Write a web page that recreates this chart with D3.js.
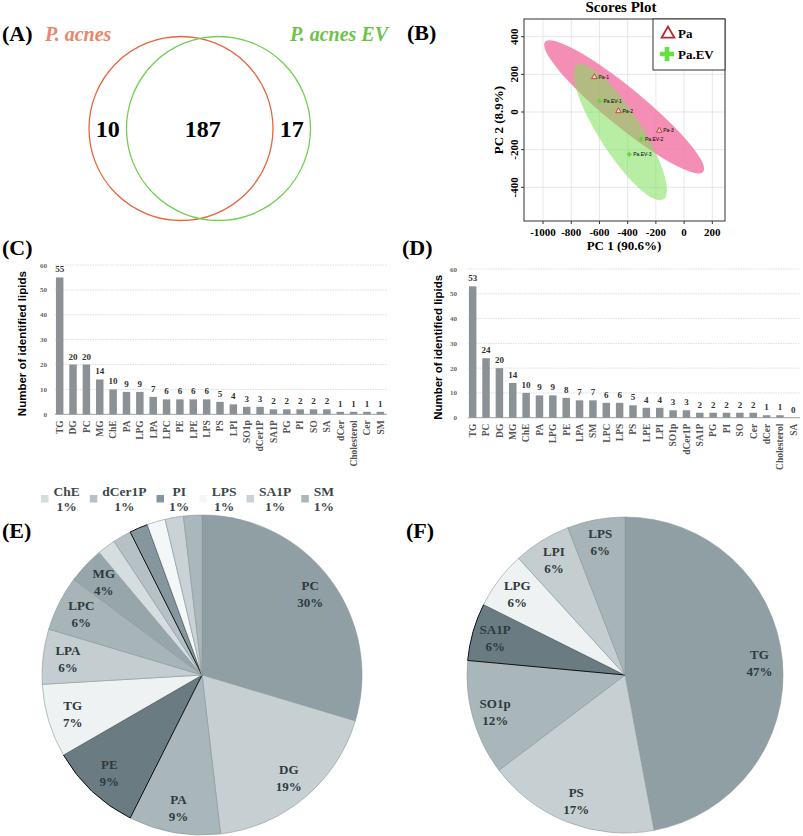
<!DOCTYPE html>
<html>
<head>
<meta charset="utf-8">
<script src="https://cdn.jsdelivr.net/npm/d3@7"></script>
<style>
  body { margin: 0; background: #fff; }
  svg { display: block; }
  text { font-family: "Liberation Serif", "Times New Roman", serif; }
</style>
</head>
<body>
<svg id="fig" width="803" height="836"></svg>
<script>
// ---------- data ----------
const vennSets = ["P. acnes", "P. acnes EV"];
const vennCounts = [10, 187, 17]; // only first, shared, only second

const pcaSamples = ["Pa-1", "Pa-2", "Pa-3", "Pa.EV-1", "Pa.EV-2", "Pa.EV-3"];
const pcaGroup = ["Pa", "Pa", "Pa", "Pa.EV", "Pa.EV", "Pa.EV"];
const pc1 = [-636, -465, -176, -600, -306, -389];
const pc2 = [186, 5, -99, 58, -145, -225];
const pcaGroups = ["Pa", "Pa.EV"];
// confidence ellipses: centre and one end of the long axis, in PC units
const ellCx = [-425, -452];
const ellCy = [27, -107];
const ellEndX = [-986, -758];
const ellEndY = [372, 250];
const pc1Ticks = [-1000, -800, -600, -400, -200, 0, 200];
const pc2Ticks = [-400, -200, 0, 200, 400];

const lipidsC = ["TG","DG","PC","MG","ChE","PA","LPG","LPA","LPC","PE","LPE","LPS","PS","LPI","SO1p","dCer1P","SA1P","PG","PI","SO","SA","dCer","Cholesterol","Cer","SM"];
const countsC = [55,20,20,14,10,9,9,7,6,6,6,6,5,4,3,3,2,2,2,2,2,1,1,1,1];
const lipidsD = ["TG","PC","DG","MG","ChE","PA","LPG","PE","LPA","SM","LPC","LPS","PS","LPE","LPI","SO1p","dCer1P","SA1P","PG","PI","SO","Cer","dCer","Cholesterol","SA"];
const countsD = [53,24,20,14,10,9,9,8,7,7,6,6,5,4,4,3,3,2,2,2,2,2,1,1,0];
const countTicks = [0, 10, 20, 30, 40, 50, 60];

const pieECats = ["PC","DG","PA","PE","TG","LPA","LPC","MG","ChE","dCer1P","PI","LPS","SA1P","SM"];
const pieEVals = [16,10,5,5,4,3,3,2,1,1,1,1,1,1];
const pieEPct  = ["30%","19%","9%","9%","7%","6%","6%","4%","1%","1%","1%","1%","1%","1%"];
const pieFCats = ["TG","PS","SO1p","SA1P","LPG","LPI","LPS"];
const pieFVals = [8,3,2,1,1,1,1];
const pieFPct  = ["47%","17%","12%","6%","6%","6%","6%"];

// ---------- styles ----------
const greys = ["#909fa4","#c6d0d3","#a9b6ba","#6a7c82","#eef2f3","#c4ced1","#a7b4b8",
               "#97a6ab","#d6dde0","#b5c1c4","#85979c","#f4f7f8","#c9d3d6","#abb8bb"];
const barColor = "#8b9194";
const pieText = "#2e3a3e";

const svg = d3.select("#fig");

function panelLabel(txt, x, y) {
  svg.append("text").attr("x", x).attr("y", y).text(txt)
    .style("font-size", "22px").style("font-weight", "bold");
}

// ---------- (A) Venn ----------
panelLabel("(A)", 2, 41);
const vx = d3.scalePoint().domain(vennSets).range([181, 218.5]);
const vr = 92, vcy = 128.5;
const vennCol = ["#e8643f", "#6fcf4f"];
const vennTxt = ["#e8876a", "#6cc24a"];
svg.selectAll("circle.venn").data(vennSets).enter().append("circle")
  .attr("class", "venn")
  .attr("cx", d => vx(d)).attr("cy", vcy).attr("r", vr)
  .style("fill", "none").style("stroke", (d, i) => vennCol[i]).style("stroke-width", 1.3);
svg.append("text").attr("x", 45).attr("y", 41).text(vennSets[0])
  .style("font-size", "20px").style("font-weight", "bold").style("font-style", "italic")
  .style("fill", vennTxt[0]);
svg.append("text").attr("x", 388).attr("y", 41).text(vennSets[1])
  .style("font-size", "20px").style("font-weight", "bold").style("font-style", "italic")
  .style("text-anchor", "end").style("fill", vennTxt[1]);
const leftA = vx(vennSets[0]) - vr, leftB = vx(vennSets[1]) - vr;
const rightA = vx(vennSets[0]) + vr, rightB = vx(vennSets[1]) + vr;
const vennLabX = [(leftA + leftB) / 2, (leftB + rightA) / 2 + 3, (rightA + rightB) / 2];
svg.selectAll("text.vc").data(vennCounts).enter().append("text")
  .attr("class", "vc")
  .attr("x", (d, i) => vennLabX[i]).attr("y", vcy + 8)
  .text(d => d)
  .style("font-size", "24px").style("font-weight", "bold").style("text-anchor", "middle");

// ---------- (B) PCA scores ----------
panelLabel("(B)", 407, 40);
const px = d3.scaleLinear().domain([-1135, 290]).range([524, 725]);
const py = d3.scaleLinear().domain([-579, 494]).range([221, 19]);
const gB = svg.append("g");
gB.append("text").attr("x", 621).attr("y", 12).text("Scores Plot")
  .style("font-size", "15px").style("font-weight", "bold").style("text-anchor", "middle");
gB.selectAll("line.gx").data(pc1Ticks).enter().append("line")
  .attr("x1", d => px(d)).attr("x2", d => px(d)).attr("y1", py.range()[0]).attr("y2", py.range()[1])
  .style("stroke", "#dde2e6").style("stroke-width", 0.8);
gB.selectAll("line.gy").data(pc2Ticks).enter().append("line")
  .attr("y1", d => py(d)).attr("y2", d => py(d)).attr("x1", px.range()[0]).attr("x2", px.range()[1])
  .style("stroke", "#dde2e6").style("stroke-width", 0.8);

const ellFill = ["#f27aa8", "#7ee05a"];
const ellOp = [0.85, 0.55];
const ellMinor = [19, 21];
pcaGroups.forEach((g, i) => {
  const cx = px(ellCx[i]), cy = py(ellCy[i]);
  const ex = px(ellEndX[i]), ey = py(ellEndY[i]);
  const a = Math.hypot(ex - cx, ey - cy);
  const ang = Math.atan2(ey - cy, ex - cx) * 180 / Math.PI;
  gB.append("ellipse")
    .attr("transform", `translate(${cx},${cy}) rotate(${ang})`)
    .attr("rx", a).attr("ry", ellMinor[i])
    .style("fill", ellFill[i]).style("fill-opacity", ellOp[i]);
});

gB.append("rect").attr("x", px.range()[0]).attr("y", py.range()[1])
  .attr("width", px.range()[1] - px.range()[0]).attr("height", py.range()[0] - py.range()[1])
  .style("fill", "none").style("stroke", "#333").style("stroke-width", 1);

gB.selectAll("text.tx").data(pc1Ticks).enter().append("text")
  .attr("x", d => px(d)).attr("y", 236).text(d => d)
  .style("font-size", "11px").style("font-weight", "bold").style("text-anchor", "middle");
gB.selectAll("text.ty").data(pc2Ticks).enter().append("text")
  .attr("transform", d => `translate(518,${py(d)}) rotate(-90)`).text(d => d)
  .style("font-size", "11px").style("font-weight", "bold").style("text-anchor", "middle");
gB.selectAll("line.tkx").data(pc1Ticks).enter().append("line")
  .attr("x1", d => px(d)).attr("x2", d => px(d)).attr("y1", 221).attr("y2", 224)
  .style("stroke", "#333");
gB.selectAll("line.tky").data(pc2Ticks).enter().append("line")
  .attr("y1", d => py(d)).attr("y2", d => py(d)).attr("x1", 521).attr("x2", 524)
  .style("stroke", "#333");
gB.append("text").attr("x", 624).attr("y", 250).text("PC 1 (90.6%)")
  .style("font-size", "13px").style("font-weight", "bold").style("text-anchor", "middle");
gB.append("text").attr("transform", "translate(503,120) rotate(-90)").text("PC 2 (8.9%)")
  .style("font-size", "13px").style("font-weight", "bold").style("text-anchor", "middle");

const tri = d3.symbol().type(d3.symbolTriangle);
const cross = d3.symbol().type(d3.symbolCross);
const pts = pcaSamples.map((s, i) => ({name: s, g: pcaGroup[i], x: pc1[i], y: pc2[i]}));
gB.selectAll("path.pt").data(pts).enter().append("path")
  .attr("transform", d => `translate(${px(d.x)},${py(d.y)})`)
  .attr("d", d => d.g === "Pa" ? tri.size(14)() : cross.size(14)())
  .style("fill", d => d.g === "Pa" ? "#f7d0d0" : "#5fd83a")
  .style("stroke", d => d.g === "Pa" ? "#c62828" : "none")
  .style("stroke-width", 0.8);
gB.selectAll("text.pl").data(pts).enter().append("text")
  .attr("x", d => px(d.x) + 4).attr("y", d => py(d.y) + 1.8).text(d => d.name)
  .style("font-family", "'Liberation Sans', Arial, sans-serif").style("font-size", "5px");

// legend
gB.append("rect").attr("x", 653).attr("y", 19).attr("width", 72).attr("height", 51)
  .style("fill", "#fff").style("stroke", "#333");
gB.append("path").attr("transform", "translate(668,34)").attr("d", tri.size(70)())
  .style("fill", "none").style("stroke", "#b02a2a").style("stroke-width", 1.8);
gB.append("path").attr("transform", "translate(667,54)").attr("d", cross.size(110)())
  .style("fill", "#66e040");
gB.selectAll("text.lg").data(pcaGroups).enter().append("text")
  .attr("x", 678).attr("y", (d, i) => 38 + i * 21).text(d => d)
  .style("font-size", "13px").style("font-weight", "bold");

// ---------- (C)/(D) bar charts ----------
function barChart(cats, vals, x0, x1, yBase, yTop, tickX, titleX) {
  const x = d3.scaleBand().domain(cats).range([x0, x1]).paddingInner(0.44).paddingOuter(0.22);
  const y = d3.scaleLinear().domain([0, 60]).range([yBase, yTop]);
  const g = svg.append("g");
  g.selectAll("line.grid").data(countTicks.slice(1)).enter().append("line")
    .attr("x1", x0 + 2).attr("x2", x1).attr("y1", d => y(d)).attr("y2", d => y(d))
    .style("stroke", "#cdd8df").style("stroke-width", 0.8).style("stroke-dasharray", "1.5,1");
  g.selectAll("text.tick").data(countTicks).enter().append("text")
    .attr("x", tickX).attr("y", d => y(d) + 2.5).text(d => d)
    .style("font-size", "7px").style("font-weight", "bold").style("fill", "#666")
    .style("text-anchor", "end");
  g.append("line").attr("x1", x0 + 2).attr("x2", x1).attr("y1", yBase).attr("y2", yBase)
    .style("stroke", "#9aa0a4").style("stroke-width", 1);
  g.selectAll("rect.bar").data(cats).enter().append("rect")
    .attr("x", d => x(d)).attr("width", x.bandwidth())
    .attr("y", (d, i) => y(vals[i])).attr("height", (d, i) => yBase - y(vals[i]))
    .style("fill", barColor);
  g.selectAll("text.val").data(cats).enter().append("text")
    .attr("x", d => x(d) + x.bandwidth() / 2).attr("y", (d, i) => y(vals[i]) - 5)
    .text((d, i) => vals[i])
    .style("font-size", "9px").style("font-weight", "bold").style("fill", "#333")
    .style("text-anchor", "middle");
  g.selectAll("text.cat").data(cats).enter().append("text")
    .attr("transform", d => `translate(${x(d) + x.bandwidth() / 2},${yBase + 6}) rotate(-90)`)
    .attr("dy", "0.35em").text(d => d)
    .style("font-size", "9.5px").style("font-weight", "bold").style("fill", "#555")
    .style("text-anchor", "end");
  g.append("text")
    .attr("transform", `translate(${titleX},${(yBase + yTop) / 2 + 4}) rotate(-90)`)
    .text("Number of identified lipids")
    .style("font-family", "'Liberation Sans', Arial, sans-serif")
    .style("font-size", "11.5px").style("font-weight", "bold").style("text-anchor", "middle");
}
panelLabel("(C)", 2, 255);
barChart(lipidsC, countsC, 53, 387, 414.3, 265, 47, 26);
panelLabel("(D)", 402, 255);
barChart(lipidsD, countsD, 466, 800, 417.7, 269, 457, 442);

// ---------- (E)/(F) pies ----------
function pieChart(cats, vals, pcts, cx, cy, r, inPie) {
  const pie = d3.pie().sort(null).value(d => d.v);
  const data = pie(cats.map((c, i) => ({c: c, v: vals[i], p: pcts[i], col: greys[i]})));
  const arc = d3.arc().innerRadius(0).outerRadius(r);
  const lab = d3.arc().innerRadius(135).outerRadius(135);
  const g = svg.append("g").attr("transform", `translate(${cx},${cy})`);
  g.selectAll("path").data(data).enter().append("path")
    .attr("d", arc)
    .style("fill", d => d.data.col)
    .style("stroke", d => d3.hsl(d.data.col).l < 0.58 ? "#111" : "#8a979b")
    .style("stroke-width", d => d3.hsl(d.data.col).l < 0.58 ? 1 : 0.6);
  const lg = g.selectAll("g.lab").data(data.filter(inPie)).enter().append("g")
    .attr("transform", d => `translate(${lab.centroid(d)})`);
  lg.append("text").attr("y", -4).text(d => d.data.c)
    .style("font-size", "13px").style("font-weight", "bold").style("fill", pieText)
    .style("text-anchor", "middle");
  lg.append("text").attr("y", 13).text(d => d.data.p)
    .style("font-size", "13px").style("font-weight", "bold").style("fill", pieText)
    .style("text-anchor", "middle");
  return data;
}
panelLabel("(E)", 2, 538);
const eData = pieChart(pieECats, pieEVals, pieEPct, 202, 675, 160, d => d.data.v > 1);
panelLabel("(F)", 406, 538);
pieChart(pieFCats, pieFVals, pieFPct, 625, 675, 158, d => true);

// legend of the small slices in (E)
const legItems = eData.filter(d => d.data.v === 1);
let lx = 41;
legItems.forEach(d => {
  svg.append("rect").attr("x", lx).attr("y", 495).attr("width", 7.5).attr("height", 7.5)
    .style("fill", d.data.col);
  const t1 = svg.append("text").attr("y", 496).text(d.data.c)
    .style("font-size", "13.5px").style("font-weight", "bold").style("fill", "#3c474b")
    .style("text-anchor", "middle");
  const t2 = svg.append("text").attr("y", 511).text(d.data.p)
    .style("font-size", "13.5px").style("font-weight", "bold").style("fill", "#3c474b")
    .style("text-anchor", "middle");
  const w = Math.max(t1.node().getComputedTextLength(), t2.node().getComputedTextLength());
  const mid = lx + 7.5 + 5 + w / 2;
  t1.attr("x", mid); t2.attr("x", mid);
  lx = mid + w / 2 + 10;
});
</script>
</body>
</html>
